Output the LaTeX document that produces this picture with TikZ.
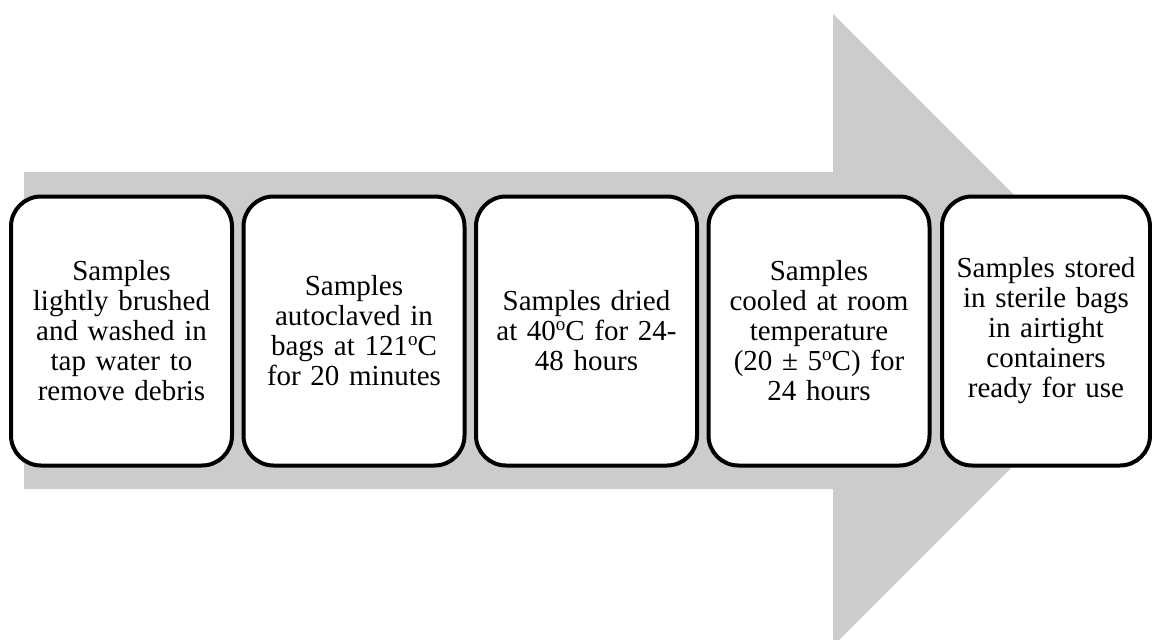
\documentclass[tikz,border=0pt]{standalone}
\usepackage{fontspec}
\setmainfont{Liberation Serif}
\definecolor{arrowgray}{RGB}{204,204,204}
% small raised "o" used as the degree mark
\newcommand{\degmark}{\raisebox{0.8ex}{\fontsize{19}{19}\selectfont o}}
\begin{document}
\begin{tikzpicture}[x=1pt,y=-1pt,
  stepbox/.style={draw=black, line width=4pt, rounded corners=30pt, fill=white,
    minimum height=269pt, align=center, inner sep=0pt, text width=205pt,
    font=\fontsize{29}{30}\selectfont}]
\useasboundingbox (0,0) rectangle (1152,640);
% broad process arrow behind the steps
\fill[arrowgray] (24,172) -- (833,172) -- (833,14) -- (1149,330) -- (833,646)
  -- (833,489) -- (24,489) -- cycle;
% process steps
\node[stepbox, minimum width=221pt] (s1) at (121.5,331)
  {Samples\\lightly brushed\\and washed in\\tap water to\\remove debris};
\node[stepbox, minimum width=221pt] (s2) at (354,331)
  {Samples\\autoclaved in\\bags at 121\degmark C\\for 20 minutes};
\node[stepbox, minimum width=221pt] (s3) at (586.5,331)
  {Samples dried\\at 40\degmark C for 24-\\48 hours};
\node[stepbox, minimum width=221pt] (s4) at (819,331)
  {Samples\\cooled at room\\temperature\\(20 ± 5\degmark C) for\\24 hours};
\node[stepbox, minimum width=208pt] (s5) at (1046,331)
  {Samples stored\\in sterile bags\\in airtight\\containers\\ready for use};
\end{tikzpicture}
\end{document}
